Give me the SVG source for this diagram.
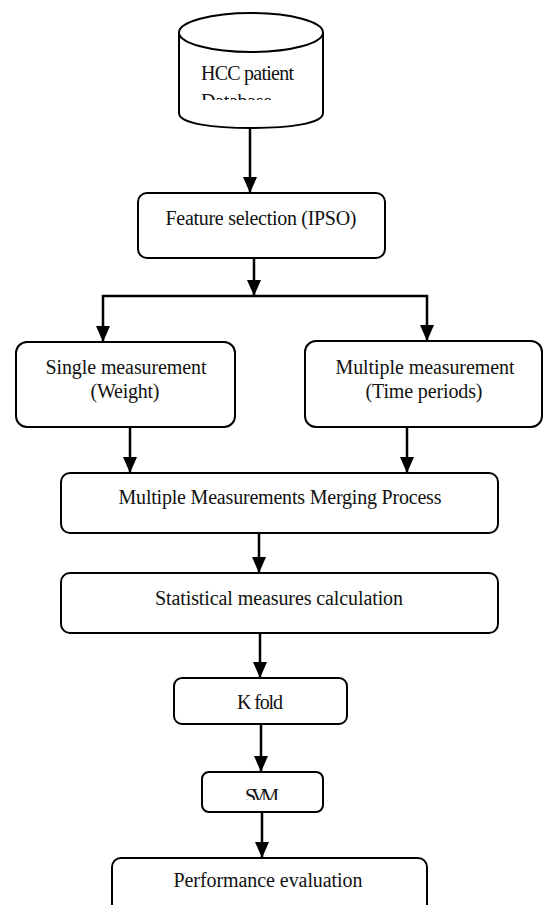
<svg xmlns="http://www.w3.org/2000/svg" width="544" height="905" viewBox="0 0 544 905">
<style>
.box{fill:#fff;stroke:#000;stroke-width:2}
.t{font-family:"Liberation Serif","Times New Roman",serif;font-size:20px;fill:#111}
.c{text-anchor:middle}
.conn{fill:none;stroke:#000;stroke-width:2.5}
</style>
<defs>
<marker id="ah" markerUnits="userSpaceOnUse" markerWidth="16" markerHeight="14" viewBox="0 0 16 14" refX="16" refY="7" orient="auto">
<path d="M0,0 L16,7 L0,14 z" fill="#000"/>
</marker>
<clipPath id="clipDb"><rect x="170" y="0" width="170" height="100"/></clipPath>
<clipPath id="clipSvm"><rect x="200" y="770" width="130" height="30"/></clipPath>
</defs>
<rect width="544" height="905" fill="#fff"/>
<g id="database">
<path class="box" d="M179,32.5 V113 C179,124 215,128 251,128 C287,128 323,124 323,113 V32.5"/>
<ellipse class="box" cx="251" cy="32.5" rx="72" ry="19.5"/>
<text class="t" x="201" y="80" textLength="93">HCC patient</text>
<text class="t" x="201" y="108" textLength="71" clip-path="url(#clipDb)">Database</text>
</g>
<g id="feature">
<rect class="box" x="138" y="193" width="247" height="65" rx="9"/>
<text class="t c" x="261" y="225" textLength="191">Feature selection (IPSO)</text>
</g>
<g id="single">
<rect class="box" x="16" y="342" width="219" height="85" rx="11"/>
<text class="t c" x="126" y="374" textLength="161">Single measurement</text>
<text class="t c" x="125" y="398" textLength="69">(Weight)</text>
</g>
<g id="multiple">
<rect class="box" x="305" y="341" width="237" height="86" rx="11"/>
<text class="t c" x="425" y="374" textLength="179">Multiple measurement</text>
<text class="t c" x="424" y="398" textLength="117">(Time periods)</text>
</g>
<g id="merging">
<rect class="box" x="61" y="473" width="437" height="60" rx="9"/>
<text class="t c" x="280" y="504" textLength="323">Multiple Measurements Merging Process</text>
</g>
<g id="statistical">
<rect class="box" x="61" y="573" width="437" height="60" rx="9"/>
<text class="t c" x="279" y="605" textLength="248">Statistical measures calculation</text>
</g>
<g id="kfold">
<rect class="box" x="174" y="678" width="173" height="46" rx="8"/>
<text class="t c" x="260" y="709" textLength="46">K fold</text>
</g>
<g id="svm">
<rect class="box" x="202" y="772" width="121" height="40" rx="7"/>
<text class="t c" x="262" y="803" textLength="34" clip-path="url(#clipSvm)">SVM</text>
</g>
<g id="performance">
<rect class="box" x="112" y="858" width="315" height="70" rx="9"/>
<text class="t c" x="268" y="887" textLength="189">Performance evaluation</text>
</g>
<g id="connectors">
<path class="conn" d="M250,128 V193" marker-end="url(#ah)"/>
<path class="conn" d="M254,258 V296" marker-end="url(#ah)"/>
<path class="conn" d="M254,296 H103 V342" marker-end="url(#ah)"/>
<path class="conn" d="M254,296 H427 V341" marker-end="url(#ah)"/>
<path class="conn" d="M130,427 V473" marker-end="url(#ah)"/>
<path class="conn" d="M407,427 V473" marker-end="url(#ah)"/>
<path class="conn" d="M259,533 V573" marker-end="url(#ah)"/>
<path class="conn" d="M260,633 V678" marker-end="url(#ah)"/>
<path class="conn" d="M261,724 V772" marker-end="url(#ah)"/>
<path class="conn" d="M262,812 V858" marker-end="url(#ah)"/>
</g>
</svg>
